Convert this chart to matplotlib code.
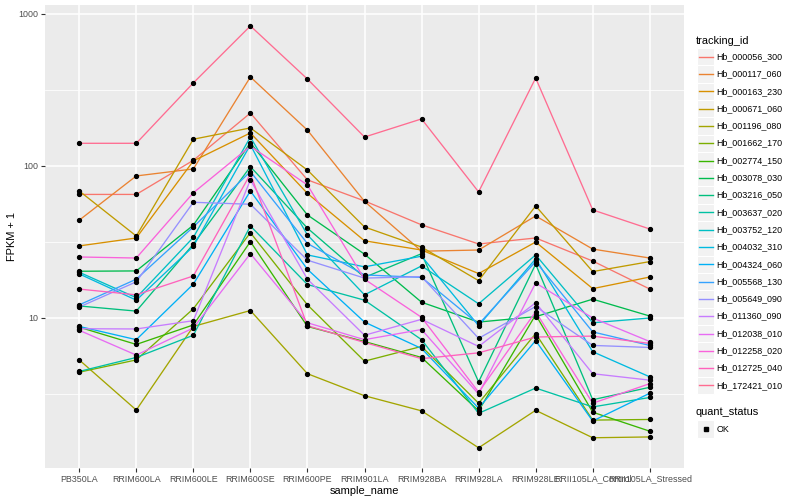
import matplotlib
matplotlib.use("Agg")
import matplotlib.pyplot as plt
from matplotlib.lines import Line2D
from matplotlib.patches import Rectangle
from matplotlib.ticker import FixedLocator, NullFormatter

plt.rcParams['font.family'] = ['Liberation Sans', 'DejaVu Sans']

samples = ["PB350LA", "RRIM600LA", "RRIM600LE", "RRIM600SE", "RRIM600PE",
           "RRIM901LA", "RRIM928BA", "RRIM928LA", "RRIM928LE",
           "RRII105LA_Control", "RRII105LA_Stressed"]

tracking_ids = ["Hb_000056_300", "Hb_000117_060", "Hb_000163_230", "Hb_000671_060",
                "Hb_001196_080", "Hb_001662_170", "Hb_002774_150", "Hb_003078_030",
                "Hb_003216_050", "Hb_003637_020", "Hb_003752_120", "Hb_004032_310",
                "Hb_004324_060", "Hb_005568_130", "Hb_005649_090", "Hb_011360_090",
                "Hb_012038_010", "Hb_012258_020", "Hb_012725_040", "Hb_172421_010"]

colors = ["#F8766D", "#EA8331", "#D89000", "#C09B00", "#A3A500", "#7CAE00", "#39B600",
          "#00BB4E", "#00BF7D", "#00C1A3", "#00BFC4", "#00BAE0", "#00B0F6", "#35A2FF",
          "#9590FF", "#C77CFF", "#E76BF3", "#FA62DB", "#FF62BC", "#FF6C91"]

# FPKM + 1 per sample (order of `samples`)
hb_000056_300 = [65, 65, 109, 223, 81, 58.9, 41, 30.7, 33.6, 23.7, 15.5]
hb_000117_060 = [44, 86, 95.6, 385, 172, 58.5, 27.5, 28, 46.9, 28.4, 24.8]
hb_000163_230 = [29.8, 33.6, 108, 165, 66, 32.2, 28, 19.6, 31.6, 15.6, 18.6]
hb_000671_060 = [68.5, 34.6, 150, 178, 94, 39.7, 29.3, 17.6, 54.6, 20.2, 23.5]
hb_001196_080 = [5.3, 2.48, 8.8, 11.2, 4.3, 3.08, 2.45, 1.40, 2.47, 1.63, 1.65]
hb_001662_170 = [4.4, 5.3, 11.5, 36.4, 12.2, 5.2, 6.5, 2.75, 7.9, 2.13, 2.15]
hb_002774_150 = [8.7, 6.7, 9.0, 31.8, 8.8, 7.0, 5.5, 2.45, 10.5, 2.4, 1.8]
hb_003078_030 = [20.3, 20.4, 40.8, 142, 47.6, 26.3, 12.7, 9.4, 10.2, 13.3, 10.3]
hb_003216_050 = [12.0, 11.1, 30.6, 99, 39, 18.5, 26.5, 3.8, 22.6, 2.9, 3.5]
hb_003637_020 = [4.45, 5.5, 7.7, 40.3, 16.6, 13.1, 7.2, 2.36, 3.46, 2.6, 3.0]
hb_003752_120 = [20.0, 13.6, 33.9, 155, 35.2, 14.2, 22, 12.4, 26, 9.3, 10.0]
hb_004032_310 = [19.5, 13.1, 29.6, 138, 26, 21.7, 25.5, 8.9, 24.5, 6.0, 4.1]
hb_004324_060 = [8.8, 7.2, 16.7, 68.5, 20.9, 9.4, 6.3, 2.55, 7.1, 2.1, 3.2]
hb_005568_130 = [12.2, 18.0, 39.7, 91.9, 30.9, 19.2, 18.5, 9.1, 23.5, 8.1, 6.6]
hb_005649_090 = [11.8, 17.3, 57.7, 56, 24, 18.3, 18.7, 7.35, 11.9, 6.6, 6.4]
hb_011360_090 = [8.5, 8.47, 9.6, 81, 18, 7.7, 9.8, 6.5, 12.6, 4.3, 3.9]
hb_012038_010 = [8.3, 5.7, 8.6, 26.5, 9.3, 7.2, 8.4, 3.16, 17, 10, 7.0]
hb_012258_020 = [25.2, 24.8, 66.6, 135, 75, 18, 10.1, 3.25, 11, 2.75, 3.7]
hb_012725_040 = [15.5, 14.2, 18.9, 88.5, 8.9, 6.9, 5.4, 5.9, 7.5, 7.6, 6.8]
hb_172421_010 = [141, 141, 352, 834, 373, 155, 204, 67.5, 379, 51.4, 38.5]

series = [hb_000056_300, hb_000117_060, hb_000163_230, hb_000671_060, hb_001196_080,
          hb_001662_170, hb_002774_150, hb_003078_030, hb_003216_050, hb_003637_020,
          hb_003752_120, hb_004032_310, hb_004324_060, hb_005568_130, hb_005649_090,
          hb_011360_090, hb_012038_010, hb_012258_020, hb_012725_040, hb_172421_010]

W, H = 800, 500
fig = plt.figure(figsize=(W / 100, H / 100), dpi=100)
fig.patch.set_facecolor("white")

L, R, T, B = 45, 684, 5, 468
ax = fig.add_axes([L / W, 1 - B / H, (R - L) / W, (B - T) / H])
ax.set_facecolor("#EBEBEB")
for s in ax.spines.values():
    s.set_visible(False)

x = list(range(len(samples)))
for vals, col in zip(series, colors):
    ax.plot(x, vals, color=col, lw=0.95, zorder=3, solid_capstyle="butt")
for vals in series:
    ax.plot(x, vals, ls="none", marker="o", ms=2.8, mfc="black", mec="black", zorder=4)

ax.set_yscale("log")
ax.set_ylim(10 ** 0.0132, 10 ** 3.059)
ax.set_xlim(-0.6, len(samples) - 1 + 0.6)

ax.yaxis.set_major_locator(FixedLocator([10, 100, 1000]))
ax.yaxis.set_minor_locator(FixedLocator([10 ** 0.5, 10 ** 1.5, 10 ** 2.5]))
ax.yaxis.set_minor_formatter(NullFormatter())
ax.set_yticklabels(["10", "100", "1000"])
ax.set_xticks(x)
ax.set_xticklabels(samples)

ax.grid(which="major", color="white", lw=1.1, zorder=1)
ax.grid(which="minor", axis="y", color="white", lw=0.55, zorder=1)
ax.set_axisbelow(True)

ax.tick_params(axis="both", which="major", length=2.8, width=0.8, color="#333333",
               labelsize=6.4, labelcolor="#4D4D4D", pad=2)
ax.tick_params(axis="y", which="minor", length=0)

ax.set_xlabel("sample_name", fontsize=7.9, labelpad=2)
ax.set_ylabel("FPKM + 1", fontsize=7.9, labelpad=1)

# Legend (drawn in pixel coordinates)
def fx(px):
    return px / W

def fy(py):
    return 1 - py / H

fig.text(fx(696), fy(40.7), "tracking_id", fontsize=7.9, va="center", ha="left")
row0, step = 56.7, 17.3
kx0, kw = 697, 17.3
for i, (tid, col) in enumerate(zip(tracking_ids, colors)):
    cy = row0 + i * step
    fig.patches.append(Rectangle((fx(kx0), fy(cy + kw / 2)), kw / W, kw / H,
                                 transform=fig.transFigure, facecolor="#F2F2F2",
                                 edgecolor="white", lw=0.8))
    fig.lines.append(Line2D([fx(kx0 + 1.7), fx(kx0 + kw - 1.7)], [fy(cy), fy(cy)],
                            transform=fig.transFigure, color=col, lw=1.0))
    fig.text(fx(716.5), fy(cy), tid, fontsize=6.4, va="center", ha="left", color="black")

fig.text(fx(696), fy(412), "quant_status", fontsize=7.9, va="center", ha="left")
cy = 429
fig.patches.append(Rectangle((fx(kx0), fy(cy + kw / 2)), kw / W, kw / H,
                             transform=fig.transFigure, facecolor="#F2F2F2",
                             edgecolor="white", lw=0.8))
fig.lines.append(Line2D([fx(kx0 + kw / 2)], [fy(cy)], transform=fig.transFigure,
                        ls="none", marker="s", ms=2.6, color="black"))
fig.text(fx(716.5), fy(cy), "OK", fontsize=6.4, va="center", ha="left")

fig.savefig("out.png", dpi=100)
